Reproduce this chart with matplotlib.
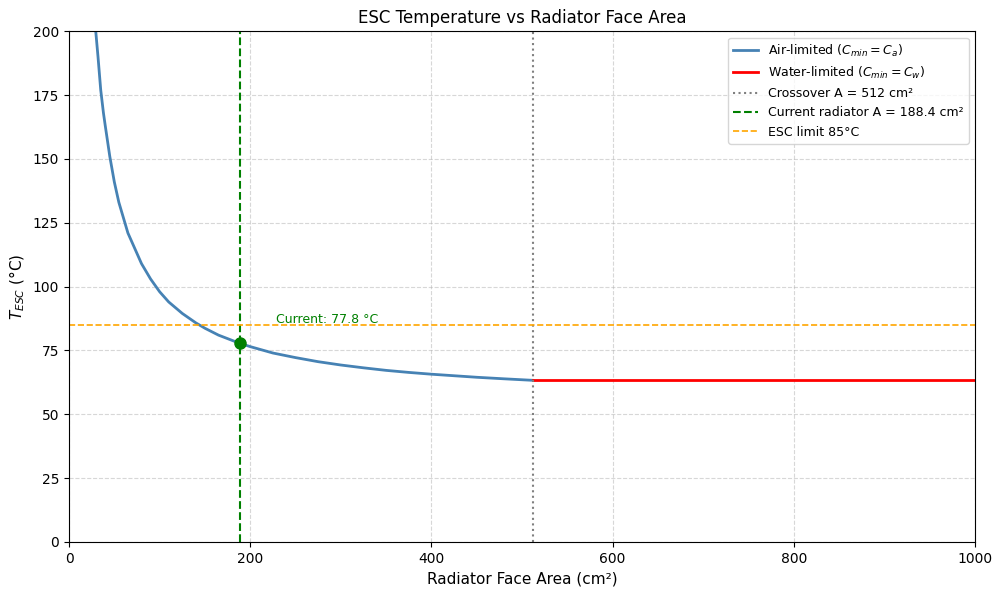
import matplotlib
matplotlib.use("Agg")
import matplotlib.pyplot as plt

# Values
air_area = [29.5, 32, 35, 38, 40, 45, 50, 55, 60, 65, 70, 75, 80, 90, 100, 110,
            125, 140, 150, 165, 188.4, 200, 225, 250, 275, 300, 325, 350, 375,
            400, 425, 450, 480, 512]
air_temp = [200, 190, 177, 168, 163, 151, 141, 133, 127, 121, 117, 113, 109, 103,
            98, 94, 89.5, 85.8, 83.7, 81, 77.8, 76.5, 74, 72.2, 70.6, 69.3, 68.2,
            67.2, 66.4, 65.7, 65.1, 64.5, 63.9, 63.3]
water_area = [512, 1000]
water_temp = [63.3, 63.3]
crossover_area = 512
current_area = 188.4
current_temp = 77.8
esc_limit = 85

fig = plt.figure(figsize=(9.93, 5.9), dpi=100)
ax = fig.add_axes([0.0695, 0.0814, 0.9125, 0.8656])

ax.plot(air_area, air_temp, color="steelblue", linewidth=2,
        label=r"Air-limited ($C_{min} = C_a$)")
ax.plot(water_area, water_temp, color="red", linewidth=2,
        label=r"Water-limited ($C_{min} = C_w$)")
ax.axvline(crossover_area, color="gray", linestyle=":", linewidth=1.5,
           label="Crossover A = 512 cm²")
ax.axvline(current_area, color="green", linestyle="--", linewidth=1.5,
           label="Current radiator A = 188.4 cm²")
ax.axhline(esc_limit, color="orange", linestyle="--", linewidth=1.2,
           label="ESC limit 85°C")
ax.plot(current_area, current_temp, "o", color="green", markersize=8)
ax.text(current_area + 40, current_temp + 8, f"Current: {current_temp} °C",
        color="green", fontsize=9)

ax.set_xlim(0, 1000)
ax.set_ylim(0, 200)
ax.grid(True, linestyle="--", alpha=0.5)
ax.set_xlabel("Radiator Face Area (cm²)", fontsize=11)
ax.set_ylabel(r"$T_{ESC}$ (°C)", fontsize=11)
ax.set_title("ESC Temperature vs Radiator Face Area", fontsize=12)
ax.legend(loc="upper right", fontsize=9)

fig.savefig("out.png")
